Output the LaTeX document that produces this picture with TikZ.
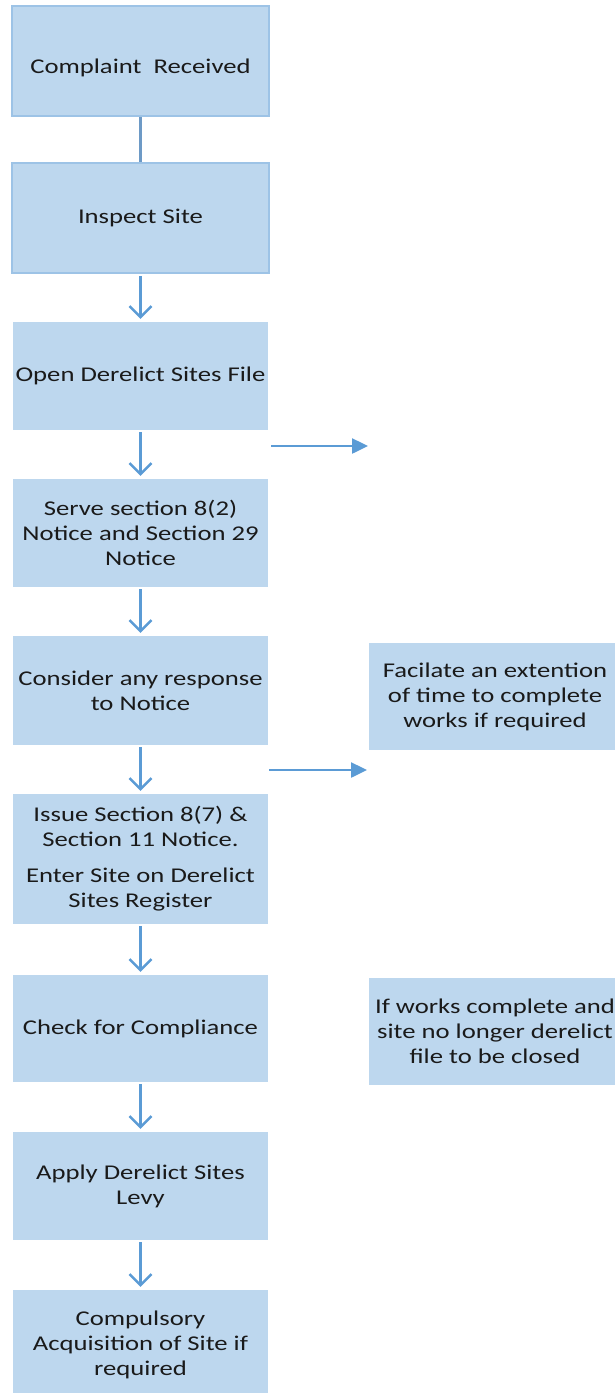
\documentclass[tikz,border=0pt]{standalone}
\usepackage{fontspec}
\setmainfont[FakeStretch=1.27]{Carlito}
\usetikzlibrary{arrows.meta}
\definecolor{boxfill}{HTML}{BDD7EE}
\definecolor{boxline}{HTML}{9DC3E6}
\definecolor{arrowblue}{HTML}{5B9BD5}
\definecolor{linkblue}{HTML}{6D9AC6}
\definecolor{txt}{HTML}{1A1A1A}
\begin{document}
\begin{tikzpicture}[x=1pt,y=-1pt,
                box/.style={fill=boxfill,text=txt,align=center,minimum width=255pt,minimum height=108pt,inner sep=0pt,font=\fontsize{21}{25}\selectfont},
                framed/.style={box,draw=boxline,line width=2pt,minimum width=257pt,minimum height=110pt},
                down/.style={arrowblue,line width=2.5pt,-{Straight Barb[length=11pt,width=22pt,line width=2.5pt]},shorten >=3pt,shorten <=2pt},
                side/.style={arrowblue,line width=2.5pt,-{Triangle[length=16pt,width=15pt]}}]
                \useasboundingbox (0,0) rectangle (614,1393);
                \node[framed] (complaint) at (140.5,61) {\raisebox{-12.5pt}[0pt][0pt]{Complaint\ \ Received}};
                \node[framed] (inspect) at (140.5,218) {Inspect Site};
                \node[box] (open) at (140.5,376) {Open Derelict Sites File};
                \node[box] (serve) at (140.5,533) {Serve section 8(2)\\Notice and Section 29\\Notice};
                \node[box,minimum height=109pt] (consider) at (140.5,690.5) {Consider any response\\to Notice};
                \node[box,minimum height=130pt] (issue) at (140.5,859) {Issue Section 8(7) \&\\Section 11 Notice.\\[11pt]Enter Site on Derelict\\Sites Register};
                \node[box,minimum height=107pt] (check) at (140.5,1028.5) {Check for Compliance};
                \node[box] (levy) at (140.5,1186) {Apply Derelict Sites\\Levy};
                \node[box,minimum height=110pt] (acquire) at (140.5,1345) {Compulsory\\Acquisition of Site if\\required};
                \node[box,minimum width=252pt,minimum height=107pt] (extend) at (495,696.5) {Facilate an extention\\of time to complete\\works if required};
                \node[box,minimum width=252pt,minimum height=107pt] (close) at (495,1031.5) {If works complete and\\site no longer derelict\\file to be closed};
                \coordinate (out1) at (271,446);
                \coordinate (in1) at (368,446);
                \coordinate (out2) at (269,770);
                \coordinate (in2) at (367,770);
                \draw[linkblue,line width=2.5pt] (complaint) -- (inspect);
                \draw[down] (inspect) -- (open);
                \draw[down] (open) -- (serve);
                \draw[down] (serve) -- (consider);
                \draw[down] (consider) -- (issue);
                \draw[down] (issue) -- (check);
                \draw[down] (check) -- (levy);
                \draw[down] (levy) -- (acquire);
                \draw[side] (out1) -- (in1);
                \draw[side] (out2) -- (in2);
            \end{tikzpicture}
\end{document}
